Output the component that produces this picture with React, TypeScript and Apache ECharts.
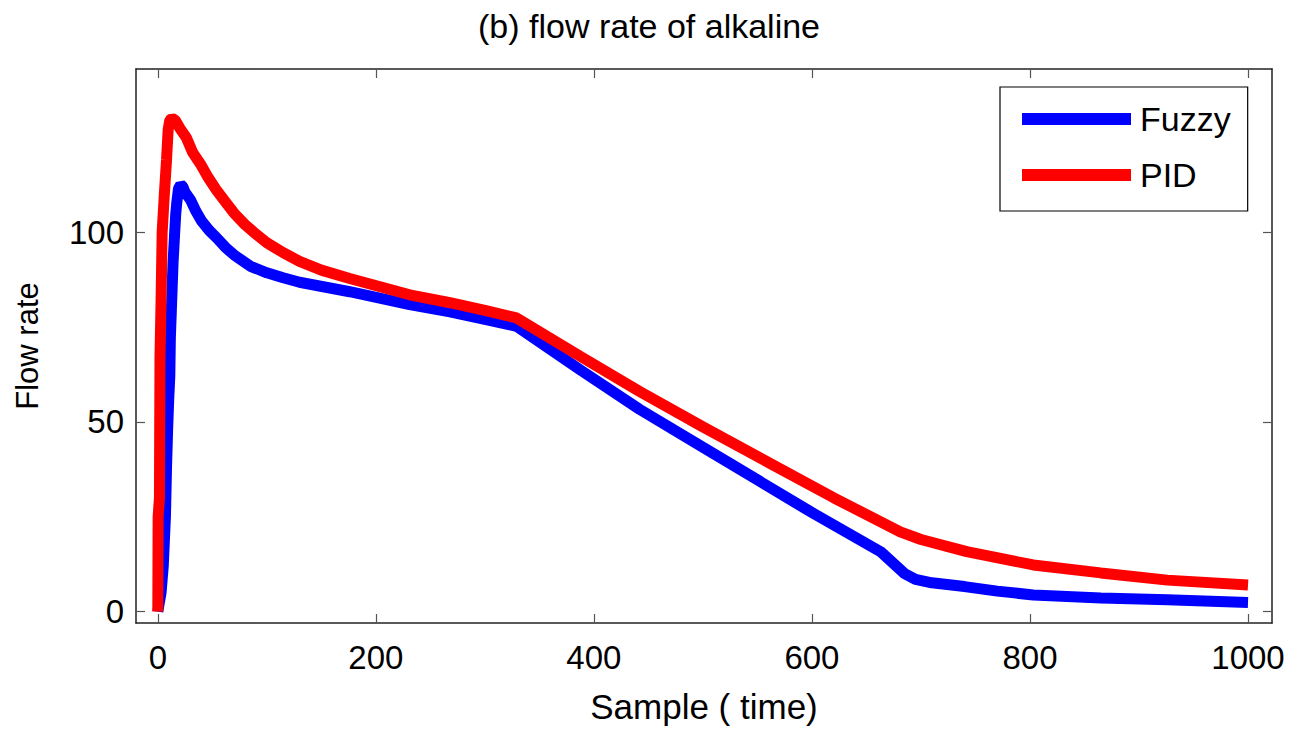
import React, { useEffect, useRef } from "react";
import * as echarts from "echarts";

const xTicks = [0, 200, 400, 600, 800, 1000];
const yTicks = [0, 50, 100];

const fuzzyX = [0, 3, 5, 7, 8, 9, 10, 11, 11.5, 12.5, 14, 15.5, 16.5, 17.5, 19, 21, 23, 25, 30, 35, 40, 47, 54, 62, 70, 85, 100, 115, 130, 176, 231, 268, 300, 329, 388, 442, 500, 553, 600, 663, 685, 695, 710, 740, 770, 803, 865, 926, 1000];
const fuzzyY = [0, 5, 12, 25, 38, 48, 56, 62, 72, 80, 92, 100, 105, 108, 111.5, 112.5, 112, 110.5, 108.5, 105.5, 103, 100.5, 98.5, 96, 94, 91, 89.3, 88, 86.8, 84.3, 80.9, 79, 77, 75.2, 63.6, 53.3, 43.3, 34.2, 26.1, 15.8, 10, 8.5, 7.6, 6.6, 5.4, 4.4, 3.6, 3.1, 2.4];

const pidX = [0, 0.3, 1.5, 2, 3, 4, 6, 8, 9.5, 11, 13, 16, 20, 26, 32, 39, 46, 54, 62, 70, 80, 90, 100, 115, 130, 150, 176, 231, 268, 300, 329, 388, 442, 500, 562, 620, 681, 700, 742, 803, 865, 926, 1000];
const pidY = [0, 25, 30, 67, 82, 100, 110, 119, 127, 129.5, 130, 129.5, 127.5, 125, 121, 118, 114.5, 111, 108, 105, 102, 99.5, 97.2, 94.6, 92.3, 90, 87.8, 83.5, 81.4, 79.4, 77.4, 67.2, 58, 48.7, 39, 30, 21, 19, 15.8, 12.3, 10.2, 8.3, 7];

const FONT = "'Liberation Sans', Arial, sans-serif";

export default function App() {
  const ref = useRef<HTMLDivElement>(null);
  useEffect(() => {
    const chart = echarts.init(ref.current!, undefined, { renderer: "svg" });
    const fuzzy = fuzzyX.map((x, i) => [x, fuzzyY[i]]);
    const pid = pidX.map((x, i) => [x, pidY[i]]);
    const axisLine = { show: true, onZero: false, lineStyle: { color: "#222", width: 1.5 } };
    const tick = (vals: number[]) => ({
      show: true,
      inside: true,
      length: 9,
      customValues: vals,
      lineStyle: { color: "#555", width: 1.2 },
    });
    const fmt = (v: number) => String(v);
    chart.setOption({
      animation: false,
      backgroundColor: "#fff",
      title: {
        text: "(b) flow rate of alkaline",
        left: "center",
        top: 4,
        textStyle: { fontFamily: FONT, fontSize: 34, fontWeight: "normal", color: "#000" },
      },
      legend: {
        data: ["Fuzzy", "PID"],
        orient: "vertical",
        left: 1000,
        top: 87,
        icon: "rect",
        itemWidth: 109,
        itemHeight: 12,
        itemGap: 22,
        padding: [15, 17, 19, 22],
        borderColor: "#000",
        borderWidth: 1.2,
        backgroundColor: "#fff",
        textStyle: { fontFamily: FONT, fontSize: 34, color: "#000", lineHeight: 34, padding: [0, 0, 0, 4] },
      },
      grid: { left: 136, right: 26, top: 69, bottom: 107 },
      xAxis: [
        {
          type: "value",
          min: -20,
          max: 1022,
          position: "bottom",
          name: "Sample ( time)",
          nameLocation: "middle",
          nameGap: 66,
          nameTextStyle: { fontFamily: FONT, fontSize: 35, color: "#000" },
          axisLine,
          axisTick: tick(xTicks),
          axisLabel: { customValues: xTicks, formatter: fmt, fontFamily: FONT, fontSize: 33, color: "#000", margin: 18 },
          splitLine: { show: false },
        },
        {
          type: "value",
          min: -20,
          max: 1022,
          position: "top",
          axisLine,
          axisTick: tick(xTicks),
          axisLabel: { show: false },
          splitLine: { show: false },
        },
      ],
      yAxis: [
        {
          type: "value",
          min: -3,
          max: 143,
          position: "left",
          name: "Flow rate",
          nameLocation: "middle",
          nameGap: 93,
          nameTextStyle: { fontFamily: FONT, fontSize: 31, color: "#000" },
          axisLine,
          axisTick: tick(yTicks),
          axisLabel: { customValues: yTicks, formatter: fmt, fontFamily: FONT, fontSize: 33, color: "#000", margin: 12 },
          splitLine: { show: false },
        },
        {
          type: "value",
          min: -3,
          max: 143,
          position: "right",
          axisLine,
          axisTick: tick(yTicks),
          axisLabel: { show: false },
          splitLine: { show: false },
        },
      ],
      series: [
        {
          name: "Fuzzy",
          type: "line",
          data: fuzzy,
          showSymbol: false,
          color: "#0000ff",
          lineStyle: { width: 11, color: "#0000ff" },
          z: 2,
        },
        {
          name: "PID",
          type: "line",
          data: pid,
          showSymbol: false,
          color: "#ff0000",
          lineStyle: { width: 11, color: "#ff0000" },
          z: 3,
        },
      ],
    });
    return () => chart.dispose();
  }, []);
  return (
    <div
      ref={ref}
      style={{ position: "fixed", left: 0, top: 0, width: 1298, height: 730, background: "#fff" }}
    />
  );
}
